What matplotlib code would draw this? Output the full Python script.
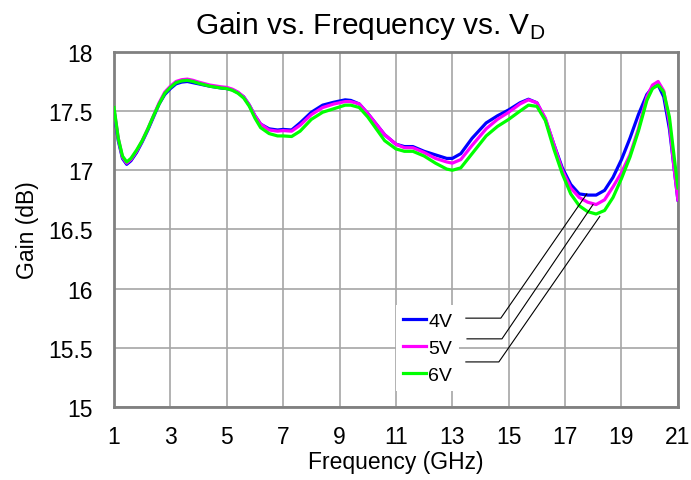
import matplotlib
matplotlib.use("Agg")
import matplotlib.pyplot as plt

plt.rcParams['font.family'] = ['Liberation Sans', 'DejaVu Sans']

# frequency points (GHz)
freq = [1.0, 1.15, 1.3, 1.45, 1.6, 1.8, 2.0, 2.2, 2.4, 2.6, 2.8, 3.0, 3.2, 3.4,
        3.6, 3.8, 4.0, 4.4, 4.8, 5.0, 5.2, 5.4, 5.6, 5.8, 6.0, 6.2, 6.5, 6.8,
        7.0, 7.3, 7.6, 8.0, 8.4, 8.8, 9.2, 9.4, 9.7, 10.0, 10.3, 10.6, 11.0,
        11.3, 11.6, 12.0, 12.4, 12.8, 13.0, 13.3, 13.7, 14.2, 14.6, 15.0, 15.4,
        15.7, 16.0, 16.3, 16.6, 16.9, 17.2, 17.5, 17.8, 18.1, 18.4, 18.7, 19.0,
        19.3, 19.6, 19.9, 20.1, 20.3, 20.5, 20.7, 20.85, 21.0]

gain_4v = [17.50, 17.25, 17.10, 17.05, 17.08, 17.15, 17.24, 17.34, 17.45, 17.56,
           17.64, 17.69, 17.73, 17.745, 17.75, 17.74, 17.73, 17.71, 17.695, 17.69,
           17.68, 17.655, 17.62, 17.55, 17.46, 17.39, 17.35, 17.34, 17.345, 17.34,
           17.40, 17.49, 17.55, 17.575, 17.595, 17.59, 17.56, 17.48, 17.39, 17.30,
           17.22, 17.20, 17.20, 17.16, 17.13, 17.10, 17.10, 17.14, 17.27, 17.40,
           17.46, 17.51, 17.57, 17.60, 17.57, 17.43, 17.22, 17.02, 16.88, 16.80,
           16.79, 16.79, 16.83, 16.94, 17.09, 17.27, 17.47, 17.64, 17.70, 17.72,
           17.62, 17.35, 17.05, 16.75]

gain_5v = [17.52, 17.27, 17.11, 17.06, 17.09, 17.16, 17.25, 17.35, 17.46, 17.57,
           17.66, 17.71, 17.75, 17.765, 17.77, 17.76, 17.745, 17.72, 17.705, 17.70,
           17.685, 17.66, 17.62, 17.55, 17.46, 17.39, 17.34, 17.33, 17.335, 17.33,
           17.38, 17.47, 17.53, 17.56, 17.58, 17.58, 17.56, 17.48, 17.39, 17.30,
           17.22, 17.19, 17.19, 17.15, 17.10, 17.07, 17.06, 17.09, 17.21, 17.35,
           17.43, 17.49, 17.56, 17.595, 17.57, 17.44, 17.22, 17.00, 16.85, 16.77,
           16.73, 16.71, 16.75, 16.86, 16.98, 17.13, 17.35, 17.62, 17.72, 17.75,
           17.67, 17.40, 17.05, 16.75]

gain_6v = [17.53, 17.27, 17.12, 17.07, 17.10, 17.17, 17.25, 17.35, 17.46, 17.56,
           17.65, 17.70, 17.74, 17.755, 17.76, 17.75, 17.735, 17.71, 17.695, 17.69,
           17.675, 17.65, 17.61, 17.54, 17.44, 17.36, 17.31, 17.29, 17.29, 17.285,
           17.33, 17.43, 17.49, 17.52, 17.55, 17.55, 17.53, 17.45, 17.35, 17.25,
           17.18, 17.16, 17.16, 17.12, 17.06, 17.01, 17.00, 17.02, 17.14, 17.29,
           17.37, 17.43, 17.50, 17.55, 17.54, 17.42, 17.18, 16.97, 16.80, 16.70,
           16.65, 16.63, 16.66, 16.77, 16.93, 17.11, 17.33, 17.59, 17.69, 17.72,
           17.66, 17.45, 17.15, 16.85]

labels = ['4V', '5V', '6V']
colors = ['#0000ff', '#ff00ff', '#00ff00']

# leader lines from the legend to each curve (x, y)
leader_x = [[13.48, 14.72, 17.77], [13.52, 14.76, 17.99], [13.48, 14.65, 18.23]]
leader_y = [[15.75, 15.75, 16.80], [15.575, 15.575, 16.71], [15.38, 15.38, 16.61]]

x_ticks = list(range(1, 22, 2))
y_ticks = [15, 15.5, 16, 16.5, 17, 17.5, 18]
y_tick_labels = ['15', '15.5', '16', '16.5', '17', '17.5', '18']

fig = plt.figure(figsize=(6.91, 4.81), dpi=100)
ax = fig.add_axes([0.165, 0.152, 0.816, 0.738])

for g, lab, c in zip([gain_4v, gain_5v, gain_6v], labels, colors):
    ax.plot(freq, g, color=c, lw=2.3, label=lab, solid_joinstyle='round', zorder=3)

for lx, ly in zip(leader_x, leader_y):
    ax.plot(lx, ly, color='black', lw=0.8, zorder=4)

ax.set_xlim(1, 21)
ax.set_ylim(15, 18)
ax.set_xticks(x_ticks)
ax.set_yticks(y_ticks)
ax.set_yticklabels(y_tick_labels)
ax.grid(True, color='#a6a6a6', lw=1.2, zorder=0)
ax.tick_params(axis='x', length=0, labelsize=16.5, pad=13)
ax.tick_params(axis='y', length=0, labelsize=16.5, pad=15)
for s in ax.spines.values():
    s.set_color('#808080')
    s.set_linewidth(2)

ax.set_xlabel('Frequency (GHz)', fontsize=16.5)
ax.xaxis.set_label_coords(0.5, -0.155)
ax.xaxis.label.set_va('center')
ax.set_ylabel('Gain (dB)', fontsize=16.5)
ax.yaxis.set_label_coords(-0.153, 0.5)
ax.yaxis.label.set_va('center')

fig.text(370 / 691, 1 - 26 / 481, 'Gain vs. Frequency vs. V$_\\mathregular{D}$',
         ha='center', va='center', fontsize=21.5)

leg = ax.legend(loc='upper left', bbox_to_anchor=(0.5, 0.287), fontsize=14,
                frameon=True, fancybox=False, handlelength=1.2, handletextpad=0.1,
                labelspacing=0.5, borderpad=0.36, borderaxespad=0)
leg.get_frame().set_edgecolor('none')
leg.get_frame().set_facecolor('white')
leg.get_frame().set_alpha(1)
leg.set_zorder(5)

fig.savefig('out.png', dpi=100)
